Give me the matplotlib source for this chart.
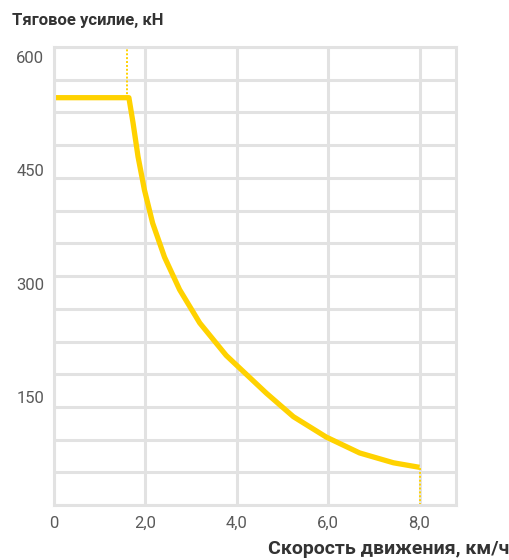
import numpy as np
import matplotlib.pyplot as plt

plt.rcParams['font.family'] = ['Roboto', 'DejaVu Sans']

# tractive effort curve
speed = [0.0, 1.64, 1.73, 1.84, 1.98, 2.16, 2.42, 2.75, 3.19, 3.77, 4.21, 4.65, 5.24,
         5.96, 6.69, 7.43, 8.0]
force = [546, 546, 513, 468, 424, 380, 335, 292, 248, 205, 180, 155, 124,
         97, 76, 63, 57]

x_ticks = [0, 2, 4, 6, 8]
x_labels = ['0', '2,0', '4,0', '6,0', '8,0']
y_ticks = [150, 300, 450, 600]

yellow = '#FFD200'
grid_c = '#e2e2e2'

fig = plt.figure(figsize=(5.09, 5.6), dpi=100)
ax = fig.add_axes([0.106, 0.098, 0.79, 0.818])

xlim = (0, 8.8)
ylim = (7, 613)
ax.set_xlim(*xlim)
ax.set_ylim(*ylim)

# grid
ax.set_xticks(x_ticks)
ax.set_xticklabels(x_labels)
ax.set_yticks(y_ticks)
ax.set_yticks(np.linspace(ylim[0], ylim[1], 15), minor=True)
ax.grid(True, which='major', axis='x', color=grid_c, lw=2.2)
ax.grid(True, which='minor', axis='y', color=grid_c, lw=2.2)
ax.tick_params(which='both', length=0)
ax.tick_params(axis='y', pad=7, labelsize=12, labelcolor='#5a5a5a')
ax.tick_params(axis='x', pad=8, labelsize=12, labelcolor='#5a5a5a')
for s in ax.spines.values():
    s.set_color(grid_c)
    s.set_linewidth(2.2)

# dotted limits
ax.plot([1.6, 1.6], [force[0], ylim[1]], color=yellow, lw=1.4, ls=(0, (1, 1)))
ax.plot([speed[-1], speed[-1]], [ylim[0], force[-1]], color=yellow, lw=1.4, ls=(0, (1, 1)))

ax.plot(speed, force, color=yellow, lw=3.8, solid_capstyle='butt', solid_joinstyle='round')

fig.text(12 / 509, 1 - 20 / 560, 'Тяговое усилие, кН', fontsize=12, fontweight='bold',
         color='#333333', va='center', ha='left')
fig.text(509 / 509, 1 - 549 / 560, 'Скорость движения, км/ч', fontsize=14, fontweight='bold',
         color='#333333', va='center', ha='right')

fig.savefig('out.png', dpi=100)
